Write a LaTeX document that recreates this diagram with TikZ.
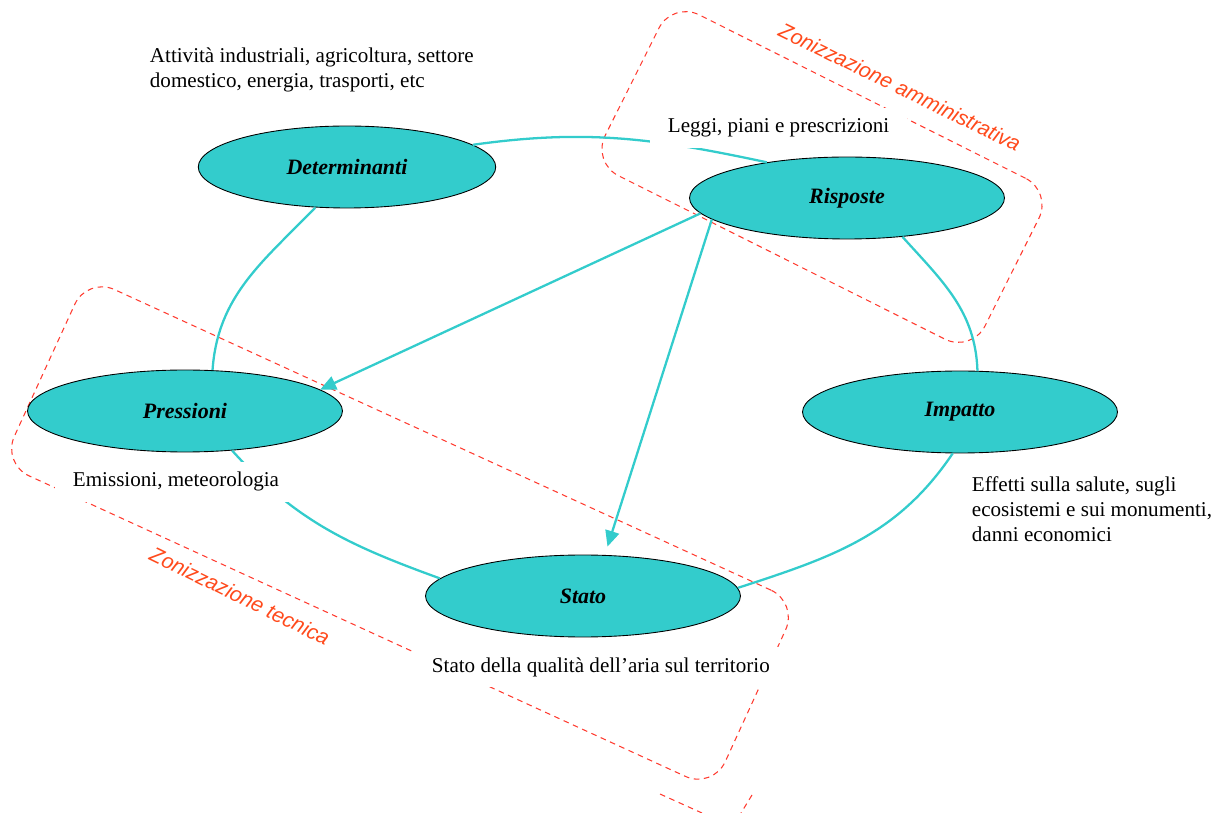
\documentclass[tikz,border=0pt]{standalone}
\usepackage{fontspec}
\setmainfont{Liberation Serif}
\newfontfamily\zonefont{Liberation Sans}
\usetikzlibrary{arrows.meta,shapes.geometric}
\definecolor{pteal}{HTML}{33CCCC}
\definecolor{pred}{HTML}{FF3B2F}
\definecolor{porange}{HTML}{FF4A1C}
\tikzset{
  % DPSIR blocks: teal ellipse with a thin black rim
  dpsir/.style = {ellipse, draw=black, fill=pteal, line width=0.5pt, inner sep=0pt,
                  minimum width=6.3cm, minimum height=1.64cm,
                  font=\bfseries\itshape\fontsize{12.5}{15}\selectfont},
  link/.style  = {pteal, line width=1.3pt},
  arr/.style   = {link, -{Triangle[length=9pt, width=8pt]}},
  txt/.style   = {fill=white, align=left, inner xsep=10pt, inner ysep=6pt,
                  font=\fontsize{12}{14.2}\selectfont},
  zone/.style  = {draw=pred, line width=0.6pt, dash pattern=on 3.2pt off 2.6pt,
                  rounded corners=17pt},
  zonetag/.style = {text=porange, inner sep=1pt,
                  font=\zonefont\itshape\fontsize{12}{14}\selectfont},
}

\begin{document}
\begin{tikzpicture}[x=0.02cm, y=-0.02cm]
\useasboundingbox (0,0) rectangle (1223,813);
% zones
\node[zone, rotate=-26.6, minimum width=8.5cm, minimum height=3.6cm] (amm) at (822,177) {};
\node[zone, rotate=-24.6, minimum width=15.64cm, minimum height=4.1cm] (tec) at (400,533) {};
\draw[zone] (660,794) -- (702,813);
\draw[zone] (752,795) -- (741,813);
% DPSIR blocks
\node[dpsir, minimum width=5.95cm] (det) at (347,167) {Determinanti};
\node[dpsir] (ris) at (847,198) {Risposte};
\node[dpsir] (pre) at (185,411) {Pressioni};
\node[dpsir] (imp) at (960,412) {Impatto};
\node[dpsir] (sta) at (583,596) {Stato};
% cycle
\draw[link] (det.10) to[out=8, in=168] (ris.156);
\draw[link] (ris.325) to[out=-48, in=92] (imp.67);
\draw[link] (imp.260) to[out=-124, in=18] (sta.3);
\draw[link] (sta.173) to[out=160, in=-48] (pre.320);
\draw[link] (pre.56) to[out=86, in=-134] (det.232);
% responses
\draw[arr] (ris.186) -- (pre.9);
\draw[arr, shorten >=5pt] (ris.189) -- (sta.62);
% descriptions
\node[txt, anchor=north west] (txt-det) at (132,37)
  {Attività industriali, agricoltura, settore\\domestico, energia, trasporti, etc};
\node[txt, anchor=base west] (txt-ris) at (650,133) {Leggi, piani e prescrizioni};
\node[txt, anchor=base west] (txt-pre) at (55,487) {Emissioni, meteorologia};
\node[txt, anchor=north west] (txt-imp) at (954,466)
  {Effetti sulla salute, sugli\\ecosistemi e sui monumenti,\\danni economici};
\node[txt, anchor=base west] (txt-sta) at (414,672) {Stato della qualità dell’aria sul territorio};
% zone names
\node[zonetag, rotate=-26] (tag-amm) at (900,87) {Zonizzazione amministrativa};
\node[zonetag, rotate=-26] (tag-tec) at (240,596) {Zonizzazione tecnica};
\end{tikzpicture}
\end{document}
